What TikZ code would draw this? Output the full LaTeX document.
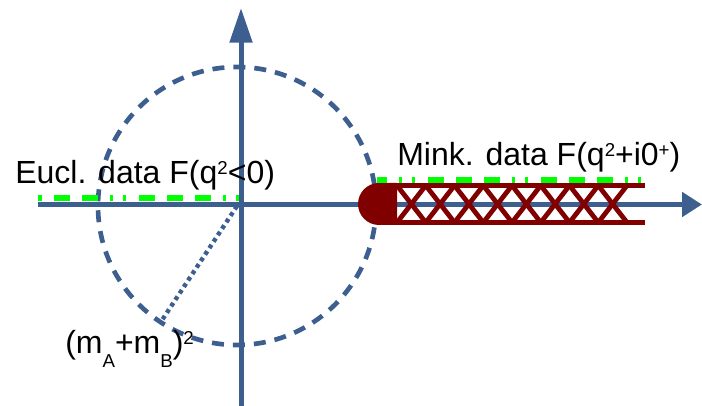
\documentclass[tikz,border=0pt]{standalone}
\usepackage{fontspec}
\setmainfont{Liberation Sans}
\usetikzlibrary{arrows.meta}
\definecolor{caxis}{HTML}{3D5F8F}
\definecolor{cdata}{HTML}{00FF00}
\definecolor{ccut}{HTML}{800000}
\newcommand{\supx}[1]{\raisebox{7pt}{\fontsize{14}{14}\selectfont #1}}
\newcommand{\subx}[1]{\raisebox{-10.5pt}{\fontsize{14}{14}\selectfont #1}}

\begin{document}
\begin{tikzpicture}[
  x=0.75pt, y=0.75pt,
  font=\fontsize{24}{28}\selectfont,
  axis/.style={draw=caxis, line width=3.75pt},
  ring/.style={draw=caxis, line width=3.5pt, dash pattern=on 9pt off 6.75pt},
  thrline/.style={draw=caxis, line width=3.3pt, dash pattern=on 3pt off 2.8pt},
  cutbar/.style={fill=ccut},
  cutline/.style={draw=ccut, line width=3.6pt},
  data/.style={draw=cdata, line width=4.5pt,
    dash pattern=on 12pt off 9pt on 12pt off 9pt on 12pt off 9pt
                 on 2.25pt off 7.5pt on 2.25pt off 9.75pt},
  lbl/.style={anchor=base west, inner sep=0pt},
  ]
\useasboundingbox (0,0) rectangle (702,406);
% axes and the threshold circle
\coordinate (c) at (237,200);
\coordinate (xl) at (38,201.5);
\coordinate (xr) at (702,201.5);
\coordinate (yb) at (241,0);
\coordinate (yt) at (241,398);
\draw[ring] (c) circle[radius=139];
\draw[axis, -{Triangle[length=15pt,width=18pt]}] (xl) -- (xr);
\draw[axis, -{Triangle[length=26pt,width=16.5pt]}] (yb) -- (yt);
\draw[thrline] (c) -- ++(236.7:137) coordinate (thr);
% branch cut
\fill[cutbar] (379,181) arc[start angle=270, end angle=90, radius=21]
  -- (397,223) -- (397,181) -- cycle;
\fill[cutbar] (379,218) rectangle (645,223);
\fill[cutbar] (379,181) rectangle (645,186);
\foreach \i in {0,...,7} {
  \draw[cutline] (397+28.75*\i,220.5) -- ++(28.75,-37);
  \draw[cutline] (397+28.75*\i,183.5) -- ++(28.75,37);
}
% data
\draw[data, dash phase=9pt] (38,208) -- (241,208);
\draw[data, dash phase=46.5pt] (377,226) -- (643,226);
\node[lbl] (eucl) at (15,222) {Eucl. data F(q\supx{2}<0)};
\node[lbl] (mink) at (397,240) {Mink. data F(q\supx{2}+i0\supx{+})};
\node[lbl] (thrlbl) at (65,52) {(m\subx{A}+m\subx{B})\supx{2}};
\end{tikzpicture}
\end{document}
